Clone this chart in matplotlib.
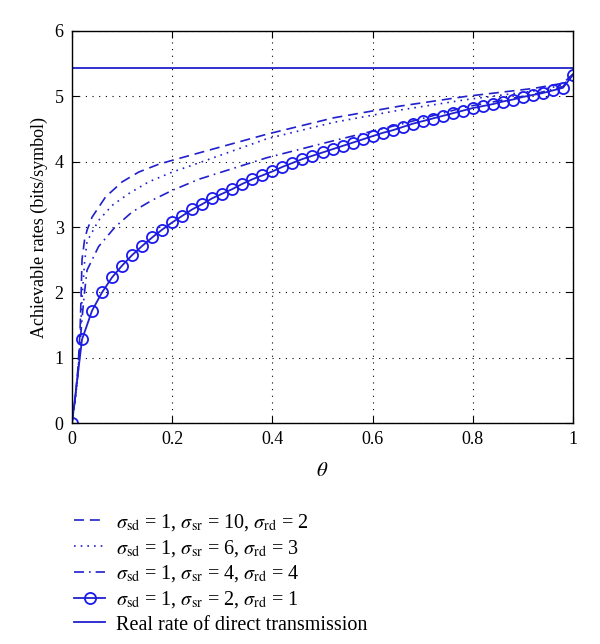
import matplotlib
matplotlib.use("Agg")
import matplotlib.pyplot as plt

plt.rcParams['font.family'] = ['Liberation Serif', 'DejaVu Serif']
plt.rcParams['mathtext.fontset'] = 'stix'

# ---- data ----
theta_dash = [0, 0.006, 0.012, 0.016, 0.018, 0.02, 0.025, 0.03, 0.04, 0.067, 0.1, 0.133,
              0.173, 0.2, 0.266, 0.389, 0.522, 0.655, 0.788, 0.921, 0.98, 1.0]
rate_dash = [0, 0.35, 0.85, 1.4, 1.9, 2.5, 2.8, 2.95, 3.15, 3.46, 3.69, 3.84,
             3.96, 4.02, 4.16, 4.42, 4.67, 4.85, 5.0, 5.12, 5.2, 5.34]

theta_dot = [0, 0.006, 0.012, 0.016, 0.02, 0.025, 0.03, 0.053, 0.08, 0.113, 0.153, 0.2,
             0.253, 0.389, 0.522, 0.655, 0.788, 0.921, 0.98, 1.0]
rate_dot = [0, 0.3, 0.75, 1.25, 1.9, 2.45, 2.78, 3.10, 3.33, 3.51, 3.69, 3.84,
            3.98, 4.35, 4.6, 4.79, 4.95, 5.08, 5.17, 5.34]

theta_dashdot = [0, 0.01, 0.015, 0.02, 0.025, 0.03, 0.053, 0.086, 0.12, 0.16, 0.2,
                 0.253, 0.389, 0.522, 0.655, 0.788, 0.921, 0.98, 1.0]
rate_dashdot = [0, 0.6, 1.1, 1.6, 2.0, 2.34, 2.70, 3.00, 3.23, 3.41, 3.56,
                3.73, 4.06, 4.32, 4.57, 4.84, 5.03, 5.15, 5.34]

theta_circ = [i / 50 for i in range(51)]
rate_circ = [0, 1.28, 1.72, 2.00, 2.23, 2.41, 2.57, 2.71, 2.84, 2.96,
             3.07, 3.17, 3.27, 3.35, 3.44, 3.51, 3.58, 3.66, 3.73, 3.79,
             3.85, 3.92, 3.98, 4.04, 4.09, 4.14, 4.19, 4.24, 4.29, 4.34,
             4.39, 4.44, 4.48, 4.53, 4.58, 4.62, 4.66, 4.70, 4.74, 4.78,
             4.82, 4.85, 4.88, 4.92, 4.95, 4.99, 5.02, 5.05, 5.09, 5.13, 5.33]

direct_rate = 5.44

labels = [
    r'$\sigma_{\mathrm{sd}}$ = 1, $\sigma_{\mathrm{sr}}$ = 10, $\sigma_{\mathrm{rd}}$ = 2',
    r'$\sigma_{\mathrm{sd}}$ = 1, $\sigma_{\mathrm{sr}}$ = 6, $\sigma_{\mathrm{rd}}$ = 3',
    r'$\sigma_{\mathrm{sd}}$ = 1, $\sigma_{\mathrm{sr}}$ = 4, $\sigma_{\mathrm{rd}}$ = 4',
    r'$\sigma_{\mathrm{sd}}$ = 1, $\sigma_{\mathrm{sr}}$ = 2, $\sigma_{\mathrm{rd}}$ = 1',
    'Real rate of direct transmission',
]
xticks = [0, 0.2, 0.4, 0.6, 0.8, 1]
xticklabels = ['0', '0.2', '0.4', '0.6', '0.8', '1']
yticks = [0, 1, 2, 3, 4, 5, 6]

# ---- plot ----
color = '#2020cc'
fig = plt.figure(figsize=(6.0, 6.44), dpi=100)
ax = fig.add_axes([0.12, 0.343, 0.835, 0.609])

l1, = ax.plot(theta_dash, rate_dash, color=color, lw=1.2, dashes=(6, 3.5), label=labels[0])
l2, = ax.plot(theta_dot, rate_dot, color=color, lw=1.2, dashes=(1, 3), label=labels[1])
l3, = ax.plot(theta_dashdot, rate_dashdot, color=color, lw=1.2, dashes=(6, 3, 1, 3), label=labels[2])
l4, = ax.plot(theta_circ, rate_circ, color=color, lw=1.3, marker='o', markersize=8,
              markerfacecolor='none', markeredgewidth=1.3, markeredgecolor='#1a1aee', label=labels[3])
l5 = ax.axhline(direct_rate, color=color, lw=1.3, label=labels[4])

ax.set_xlim(0, 1)
ax.set_ylim(0, 6)
ax.set_xticks(xticks)
ax.set_xticklabels(xticklabels)
ax.set_yticks(yticks)
ax.grid(True, color='black', linestyle=(0, (1, 5)), linewidth=0.8)
ax.tick_params(direction='in', top=True, right=True, labelsize=13, length=5, pad=6)
for s in ax.spines.values():
    s.set_linewidth(1.0)

ax.set_xlabel(r'$\theta$', fontsize=15, labelpad=10)
ax.set_ylabel('Achievable rates (bits/symbol)', fontsize=13, labelpad=5)

fig.legend(handles=[l1, l2, l3, l4, l5], labels=labels, loc='upper left',
           bbox_to_anchor=(0.11, 0.218), frameon=False, fontsize=14.5,
           handlelength=1.55, handletextpad=0.55, labelspacing=0.25, borderaxespad=0)

fig.savefig('out.png', dpi=100)
